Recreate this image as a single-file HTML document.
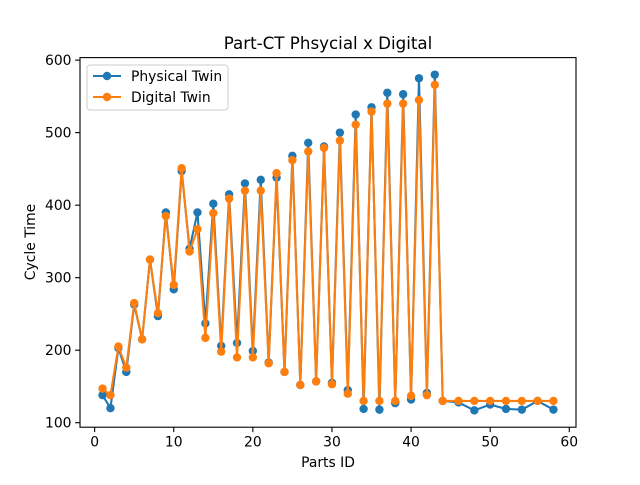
<!DOCTYPE html>
<html><head><meta charset="utf-8"><style>
body{margin:0;background:#fff;}
svg text{font-family:"DejaVu Sans","Liberation Sans",sans-serif;fill:#000;}
</style></head><body>
<svg id="chart" width="640" height="480" xmlns="http://www.w3.org/2000/svg">
<rect width="640" height="480" fill="#fff"/>
<text x="328" y="49" font-size="16.7" text-anchor="middle">Part-CT Phsycial x Digital</text>
<g id="plot"></g>
<rect x="80" y="57.6" width="496" height="369.6" fill="none" stroke="#000" stroke-width="1.1"/>
<text x="328" y="467" font-size="13.9" text-anchor="middle">Parts ID</text>
<text x="35" y="242" font-size="13.9" text-anchor="middle" transform="rotate(-90 35 242)">Cycle Time</text>
<g>
<rect x="87" y="65" width="141" height="45" rx="3" fill="#fff" fill-opacity="0.8" stroke="#ccc"/>
<line x1="93" y1="76" x2="121" y2="76" stroke="#1f77b4" stroke-width="2"/>
<circle cx="107" cy="76" r="4.2" fill="#1f77b4"/>
<text x="131" y="81" font-size="13.9">Physical Twin</text>
<line x1="93" y1="97" x2="121" y2="97" stroke="#ff7f0e" stroke-width="2"/>
<circle cx="107" cy="97" r="4.2" fill="#ff7f0e"/>
<text x="131" y="102" font-size="13.9">Digital Twin</text>
</g>
</svg>
<script>
const partIds=[1,2,3,4,5,6,7,8,9,10,11,12,13,14,15,16,17,18,19,20,21,22,23,24,25,26,27,28,29,30,31,32,33,34,35,36,37,38,39,40,41,42,43,44,46,48,50,52,54,56,58];
const physical=[138,120,203,170,263,215,325,247,390,284,447,340,390,237,402,206,415,210,430,199,435,183,438,170,468,152,486,157,481,155,500,145,525,119,535,118,555,127,553,132,575,141,580,130,128,117,125,119,118,130,118];
const digital=[147,138,205,176,265,215,325,251,385,290,451,336,367,217,389,198,409,190,420,190,420,182,444,170,462,152,474,157,479,153,489,140,511,130,529,130,540,130,540,137,545,138,566,130,130,130,130,130,130,130,130];
const xTicks=[0,10,20,30,40,50,60];
const yTicks=[100,200,300,400,500,600];
const NS='http://www.w3.org/2000/svg';
const L=80,R=576,T=57.6,B=427.2;
const xmin=-1.85,xmax=60.85,ymin=93.8,ymax=603.5;
const sx=v=>L+(v-xmin)/(xmax-xmin)*(R-L);
const sy=v=>B-(v-ymin)/(ymax-ymin)*(B-T);
const g=document.getElementById('plot');
function mk(t,a){const e=document.createElementNS(NS,t);for(const k in a)e.setAttribute(k,a[k]);g.appendChild(e);return e;}
xTicks.forEach(v=>{
  const tk=mk('line',{x1:sx(v),x2:sx(v),y1:B,y2:B+4.9,stroke:'#000','stroke-width':1.1});
  
  
  const t=mk('text',{x:sx(v),y:B+19.5,'font-size':13.9,'text-anchor':'middle'});t.textContent=v;
  
  
});
yTicks.forEach(v=>{
  const tk=mk('line',{x1:L-4.9,x2:L,y1:sy(v),y2:sy(v),stroke:'#000','stroke-width':1.1});
  
  
  const t=mk('text',{x:L-8.5,y:sy(v)+5,'font-size':13.9,'text-anchor':'end'});t.textContent=v;
  
  
});
function series(vals,color,name){
  const pts=partIds.map((x,i)=>sx(x)+','+sy(vals[i])).join(' ');
  const pl=mk('polyline',{points:pts,fill:'none',stroke:color,'stroke-width':2.08});
  
  
  partIds.forEach((x,i)=>{
    const c=mk('circle',{cx:sx(x),cy:sy(vals[i]),r:4.2,fill:color});
    
    
  });
}
series(physical,'#1f77b4','physical-twin');
series(digital,'#ff7f0e','digital-twin');
</script>
</body></html>
